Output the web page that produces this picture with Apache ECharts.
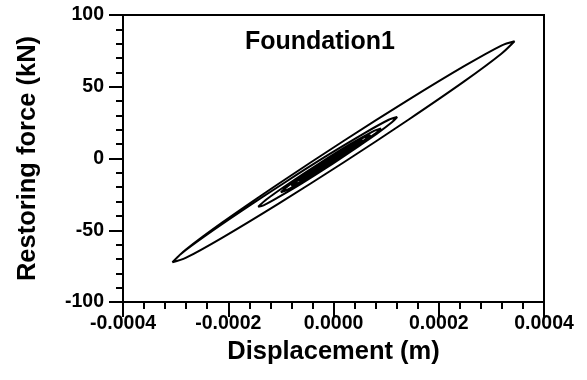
<!DOCTYPE html>
<html>
<head>
<meta charset="utf-8">
<script src="https://cdn.jsdelivr.net/npm/echarts@6/dist/echarts.min.js"></script>
<style>
  html, body { margin: 0; padding: 0; background: #fff; }
  #chart { width: 587px; height: 380px; }
</style>
</head>
<body>
<div id="chart"></div>
<script>
// Hysteresis of the foundation: displacement (m) against restoring force (kN).
// First the large cycle, then the medium cycle, then the decaying small cycles.
const bigLoopDisp = [-0.000306, -0.000281, -0.000211, -0.000105, 0.000019, 0.000143, 0.000249, 0.000319, 0.000344,
  0.000319, 0.000249, 0.000143, 0.000019, -0.000105, -0.000211, -0.000281, -0.000306];
const bigLoopForce = [-72.3, -63.6, -44.5, -17.8, 12.2, 41.0, 64.5, 78.7, 81.7,
  73.0, 53.9, 27.2, -2.8, -31.6, -55.1, -69.3, -72.3];

const midLoopDisp = [-0.000290, -0.000244, -0.000174, -0.0000925, -0.000011, 0.000059, 0.000105, 0.000121,
  0.000111, 0.0000825, 0.000039, -0.000011, -0.000061, -0.0001045, -0.000133, -0.000143];
const midLoopForce = [-66.5, -54.0, -36.4, -16.7, 2.3, 17.7, 27.0, 28.9,
  25.2, 17.3, 6.4, -5.9, -17.5, -26.9, -32.6, -33.6];

const decayDisp = [
  -0.000127, -0.0000847, -0.0000265, 0.0000318, 0.0000744, 0.000090,
  0.0000773, 0.0000425, -0.000005, -0.0000525, -0.0000873, -0.000100,
  -0.0000886, -0.0000575, -0.000015, 0.0000275, 0.0000586, 0.000070,
  0.000060, 0.0000325, -0.000005, -0.0000425, -0.000070, -0.000080,
  -0.000071, -0.0000462, -0.0000125, 0.0000213, 0.000046, 0.000055,
  0.000047, 0.000025, -0.000005, -0.000035, -0.000057, -0.000065,
  -0.0000578, -0.0000382, -0.0000115, 0.0000153, 0.0000348, 0.000042,
  0.0000358, 0.000019, -0.000004, -0.000027, -0.0000438, -0.000050,
  -0.0000445, -0.0000295, -0.000009, 0.0000115, 0.0000265, 0.000032,
  0.0000273, 0.0000145, -0.000003, -0.0000205, -0.0000333, -0.000038,
  -0.000034, -0.000023, -0.000008, 0.000007, 0.000018, 0.000022,
  0.0000188, 0.000010, -0.000002, -0.000014, -0.0000228, -0.000026,
  -0.0000202, -0.000006, 0.000008, 0.000014,
  0.0000096, -0.000001, -0.0000116, -0.000016,
  -0.000013, -0.0000055, 0.000002, 0.000005
];
const decayForce = [
  -28.4, -17.4, -3.3, 10.0, 18.8, 21.0,
  16.8, 7.8, -3.7, -14.5, -21.7, -23.5,
  -19.8, -11.7, -1.4, 8.3, 14.9, 16.5,
  13.2, 6.1, -3.1, -11.7, -17.5, -19.0,
  -16.2, -9.9, -1.8, 6.1, 11.5, 13.0,
  10.5, 4.9, -2.4, -9.3, -14.1, -15.5,
  -13.3, -8.3, -1.8, 4.5, 8.8, 10.0,
  8.1, 3.8, -1.9, -7.2, -11.0, -12.0,
  -10.3, -6.5, -1.5, 3.3, 6.6, 7.5,
  6.1, 2.8, -1.4, -5.4, -8.2, -9.0,
  -7.8, -5.0, -1.5, 2.0, 4.3, 5.0,
  4.0, 1.7, -1.2, -4.0, -6.0, -6.5,
  -4.8, -1.3, 2.0, 3.2,
  2.0, -0.7, -3.1, -4.0,
  -3.2, -1.4, 0.2, 0.8
];

// Axis ranges and tick steps
const dispRange = [-0.0004, 0.0004];
const dispStep = 0.0002;
const forceRange = [-100, 100];
const forceStep = 50;

const chartTitle = 'Foundation1';
const dispName = 'Displacement (m)';
const forceName = 'Restoring force (kN)';

const FONT = '"Liberation Sans", Arial, Helvetica, sans-serif';

const allDisp = bigLoopDisp.concat(midLoopDisp, decayDisp);
const allForce = bigLoopForce.concat(midLoopForce, decayForce);
const pathData = allDisp.map((d, i) => [d, allForce[i]]);

const chart = echarts.init(document.getElementById('chart'), null, { renderer: 'canvas' });

const axisCommon = {
  type: 'value',
  splitLine: { show: false },
  axisLine: { show: true, onZero: false, lineStyle: { color: '#000', width: 2 } },
  axisTick: { show: true, inside: false, lineStyle: { color: '#000', width: 2 } },
  minorTick: { show: true, splitNumber: 5, length: 7, lineStyle: { color: '#000', width: 2 } },
  minorSplitLine: { show: false },
  nameLocation: 'middle',
  nameTextStyle: { color: '#000', fontFamily: FONT, fontWeight: 'bold', fontSize: 25.5 },
  axisLabel: { color: '#000', fontFamily: FONT, fontWeight: 'bold', fontSize: 19.5 }
};

chart.setOption({
  animation: false,
  backgroundColor: '#fff',
  grid: {
    left: 123, right: 43, top: 15, bottom: 78,
    show: true, borderColor: '#000', borderWidth: 2, backgroundColor: 'transparent'
  },
  xAxis: Object.assign({}, axisCommon, {
    min: dispRange[0], max: dispRange[1], interval: dispStep,
    name: dispName, nameGap: 35,
    axisTick: Object.assign({}, axisCommon.axisTick, { length: 15 }),
    axisLabel: Object.assign({}, axisCommon.axisLabel, {
      margin: 12,
      formatter: v => v.toFixed(4)
    })
  }),
  yAxis: Object.assign({}, axisCommon, {
    min: forceRange[0], max: forceRange[1], interval: forceStep,
    name: forceName, nameGap: 82,
    axisTick: Object.assign({}, axisCommon.axisTick, { length: 14 }),
    axisLabel: Object.assign({}, axisCommon.axisLabel, {
      margin: 19,
      formatter: v => String(Math.round(v))
    })
  }),
  graphic: [{
    type: 'text',
    x: 320, y: 42,
    style: {
      text: chartTitle,
      fill: '#000',
      font: 'bold 25px ' + FONT,
      align: 'center',
      verticalAlign: 'middle'
    }
  }],
  series: [{
    type: 'line',
    data: pathData,
    showSymbol: false,
    symbol: 'none',
    smooth: 0.3,
    clip: true,
    lineStyle: { color: '#000', width: 2 }
  }]
});
</script>
</body>
</html>
